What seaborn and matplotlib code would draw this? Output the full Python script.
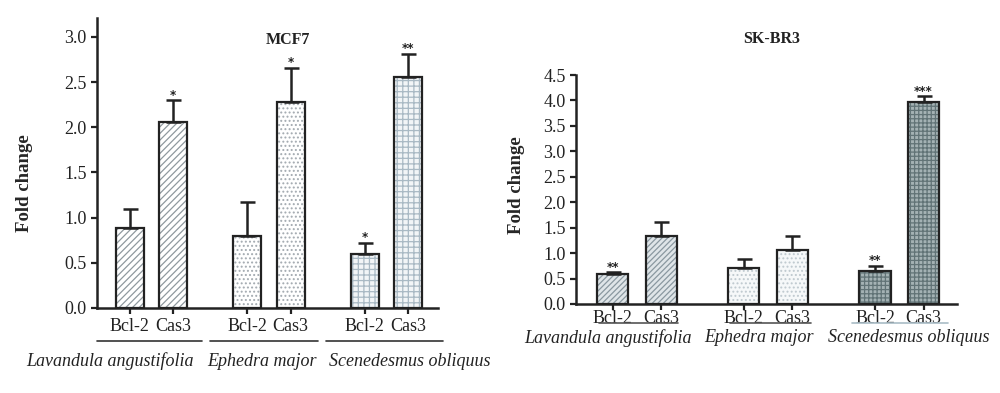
import numpy as np
import pandas as pd
import matplotlib.pyplot as plt
import seaborn as sns
from matplotlib.patches import Rectangle

# data
plants = ["Lavandula angustifolia", "Ephedra major", "Scenedesmus obliquus"]
genes = ["Bcl-2", "Cas3"]

mcf7_mean = [0.88, 2.06, 0.80, 2.28, 0.60, 2.56]
mcf7_err = [0.22, 0.24, 0.37, 0.38, 0.12, 0.25]
mcf7_sig = ["", "*", "", "*", "*", "**"]

skbr3_mean = [0.59, 1.34, 0.70, 1.07, 0.65, 3.97]
skbr3_err = [0.03, 0.28, 0.18, 0.27, 0.10, 0.11]
skbr3_sig = ["**", "", "", "", "**", "***"]

mcf7_yticks = [0.0, 0.5, 1.0, 1.5, 2.0, 2.5, 3.0]
skbr3_yticks = [0.0, 0.5, 1.0, 1.5, 2.0, 2.5, 3.0, 3.5, 4.0, 4.5]

sns.set_style("ticks")
plt.rcParams['font.family'] = ['Liberation Serif', 'DejaVu Serif']
plt.rcParams['hatch.linewidth'] = 0.9

fig = plt.figure(figsize=(10, 3.93), dpi=100)
ax1 = fig.add_axes([0.097, 0.2163, 0.341, 0.738])
ax2 = fig.add_axes([0.576, 0.2265, 0.381, 0.5825])

# (face, hatch colour, hatch) per plant
styles1 = [("#ffffff", "#8f999e", "/////"),
           ("#ffffff", "#a3aab0", "...."),
           ("#f2f5f7", "#a9b9c4", "+++")]
styles2 = [("#dfe5e8", "#8a98a0", "//////"),
           ("#f6f8f9", "#bfc9cf", "...."),
           ("#a4b2b4", "#617376", "++++")]


def panel(ax, means, errs, sigs, styles, yticks, ylim, edge_lw):
    df = pd.DataFrame({
        "plant": np.repeat(plants, 2),
        "gene": genes * 3,
        "value": means,
    })
    sns.barplot(data=df, x="plant", y="value", hue="gene", order=plants,
                hue_order=genes, width=0.74, gap=0.36, errorbar=None,
                palette=["#ffffff", "#ffffff"], legend=False, ax=ax)
    bars = sorted(ax.patches, key=lambda p: p.get_x())
    centers = []
    for i, p in enumerate(bars):
        face, hcol, hatch = styles[i // 2]
        p.set_facecolor(face)
        p.set_edgecolor(hcol)
        p.set_hatch(hatch)
        p.set_linewidth(0)
        ax.add_patch(Rectangle((p.get_x(), 0), p.get_width(), p.get_height(),
                               fill=False, edgecolor="#222222", lw=edge_lw, zorder=1.5))
        centers.append(p.get_x() + p.get_width() / 2)
    heights = [p.get_height() for p in bars]
    ax.errorbar(centers, heights, yerr=[np.zeros(len(errs)), errs], fmt="none",
                ecolor="#222222", elinewidth=1.8, capsize=5.4, capthick=1.8, zorder=3)
    for c, h, e, s in zip(centers, heights, errs, sigs):
        if s:
            ax.annotate(s, (c, h + e), xytext=(0, -1), textcoords="offset points",
                        ha="center", va="bottom", fontsize=8.5, fontweight="bold",
                        family="DejaVu Sans", color="#222222")
    ax.set_xticks(centers)
    ax.set_xticklabels(genes * 3)
    ax.set_xlim(-0.464, 2.44)
    ax.set_ylim(*ylim)
    ax.set_yticks(yticks)
    ax.set_yticklabels([f"{t:.1f}" for t in yticks])
    ax.set_xlabel("")
    ax.set_ylabel("Fold change", fontsize=13.5, fontweight="bold")
    sns.despine(ax=ax)
    for sp in ["left", "bottom"]:
        ax.spines[sp].set_linewidth(1.8)
        ax.spines[sp].set_color("#222222")
    ax.tick_params(axis="both", width=1.6, length=4, color="#222222",
                   labelsize=13, labelcolor="#222222")
    return centers


panel(ax1, mcf7_mean, mcf7_err, mcf7_sig, styles1, mcf7_yticks, (0, 3.21), 1.6)
ax1.tick_params(axis="x", pad=3)
ax1.yaxis.set_label_coords(-0.188, 0.43)
ax1.text(1.16, 2.97, "MCF7", ha="center", va="center", fontsize=11.5,
         fontweight="bold", color="#222222")

panel(ax2, skbr3_mean, skbr3_err, skbr3_sig, styles2, skbr3_yticks, (0, 4.5), 1.6)
ax2.tick_params(axis="x", pad=0)
ax2.yaxis.set_label_coords(-0.134, 0.52)
ax2.text(1.03, 1.157, "SK-BR3", transform=ax2.get_xaxis_transform(), ha="center",
         va="center", fontsize=11.5, fontweight="bold", color="#222222")

# group underlines and species names
spans1 = [(-0.46, 0.43), (0.50, 1.42), (1.49, 2.48)]
names1_x = [-0.35, 0.94, 2.20]
spans2 = [(-0.29, 0.31), (0.71, 1.33), (1.64, 2.37)]
names2_x = [-0.22, 0.93, 2.07]
line_cols2 = ["#555555", "#555555", "#a9bcc6"]

for (a, b), nx, name in zip(spans1, names1_x, plants):
    ax1.plot([a, b], [-0.114, -0.114], transform=ax1.get_xaxis_transform(),
             color="#333333", lw=1.2, clip_on=False)
    ax1.text(nx, -0.183, name, transform=ax1.get_xaxis_transform(), ha="center",
             va="center", fontsize=13, style="italic", color="#222222")

for (a, b), nx, name, lc in zip(spans2, names2_x, plants, line_cols2):
    ax2.plot([a, b], [-0.083, -0.083], transform=ax2.get_xaxis_transform(),
             color=lc, lw=1.2, clip_on=False)
    ax2.text(nx, -0.148, name, transform=ax2.get_xaxis_transform(), ha="center",
             va="center", fontsize=13, style="italic", color="#222222")

plt.savefig("out.png", dpi=100)
